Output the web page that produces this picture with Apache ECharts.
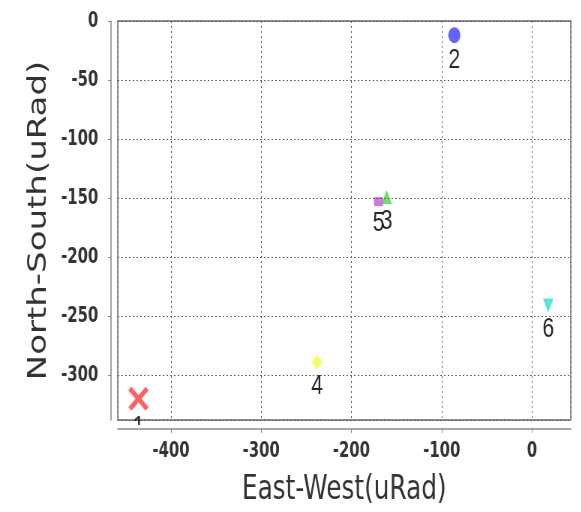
<!DOCTYPE html>
<html>
<head>
<meta charset="utf-8">
<script src="https://cdn.jsdelivr.net/npm/echarts@6/dist/echarts.min.js"></script>
<style>
  html, body { margin: 0; padding: 0; background: #fff; overflow: hidden; }
  #wrap { width: 581px; height: 512px; overflow: hidden; }
  #chart { width: 775px; height: 512px; transform: scaleX(0.75); transform-origin: 0 0; }
</style>
</head>
<body>
<div id="wrap"><div id="chart"></div></div>
<script>
// ---- data ----
const pointLabels = ['1', '2', '3', '4', '5', '6'];
const eastWest    = [-436, -86, -161, -238, -170, 18];
const northSouth  = [-320, -12, -149, -289, -153, -241];
const xTitle = 'East-West(uRad)';
const yTitle = 'North-South(uRad)';

// ---- styles (per point) ----
const crossPath = 'path://M3,0 L10,7 L17,0 L20,3 L13,10 L20,17 L17,20 L10,13 L3,20 L0,17 L7,10 L0,3 Z';
const markerSymbols = [crossPath, 'circle', 'triangle', 'diamond', 'rect', 'triangle'];
const markerSizes   = [[27, 24], 16, 14, 15, [12, 9], 14];
const markerRotate  = [0, 0, 0, 0, 0, 180];
const markerColors  = ['#ff4f55', '#5252ff', '#55e055', '#f4ff50', '#cf66d8', '#45e3d6'];

const data = pointLabels.map((name, i) => ({
  name: name,
  value: [eastWest[i], northSouth[i]],
  symbol: markerSymbols[i],
  symbolSize: markerSizes[i],
  symbolRotate: markerRotate[i],
  itemStyle: { color: markerColors[i], opacity: 0.9 }
}));

const chart = echarts.init(document.getElementById('chart'), null, { renderer: 'canvas' });
const tickFont = { fontFamily: 'DejaVu Sans Condensed', fontWeight: 'bold', fontSize: 22, color: '#333' };
const gridLine = { show: true, lineStyle: { color: '#555', type: [2, 3], width: 1 } };

chart.setOption({
  animation: false,
  backgroundColor: '#fff',
  grid: { left: 157, right: 14, top: 21, bottom: 89, show: true, borderColor: '#6a6a6a', borderWidth: 1.5, backgroundColor: '#fff' },
  xAxis: {
    type: 'value', min: -459, max: 43, splitNumber: 5, offset: 9, z: 5,
    axisLine: { show: true, onZero: false, lineStyle: { color: '#888', width: 1.5 } },
    axisTick: { show: true, length: 4, lineStyle: { color: '#888' } },
    axisLabel: Object.assign({ margin: 11, showMinLabel: false, showMaxLabel: false,
      formatter: v => (v % 100 === 0 ? String(v) : '') }, tickFont),
    splitLine: gridLine,
    name: xTitle, nameLocation: 'middle', nameGap: 45,
    nameTextStyle: { fontFamily: 'DejaVu Sans', fontSize: 33, color: '#333' }
  },
  yAxis: {
    type: 'value', min: -338, max: 0, splitNumber: 7, offset: 9, z: 5,
    axisLine: { show: true, onZero: false, lineStyle: { color: '#888', width: 1.5 } },
    axisTick: { show: true, length: 4, lineStyle: { color: '#888' } },
    axisLabel: Object.assign({ margin: 17, showMinLabel: false,
      formatter: v => (v % 50 === 0 ? String(v) : '') }, tickFont),
    splitLine: gridLine,
    name: yTitle, nameLocation: 'middle', nameRotate: 90, nameGap: 79,
    nameTextStyle: { fontFamily: 'DejaVu Sans', fontSize: 34, color: '#333' }
  },
  graphic: [{
    type: 'rect', z: 3, silent: true,
    shape: { x: 0, y: 425, width: 775, height: 87 },
    style: { fill: '#fff' }
  }],
  series: [{
    type: 'scatter', z: 2,
    data: data,
    label: {
      show: true, position: 'bottom', distance: 3,
      formatter: '{b}',
      fontFamily: 'Liberation Sans', fontSize: 28, color: '#111'
    }
  }]
});
</script>
</body>
</html>
